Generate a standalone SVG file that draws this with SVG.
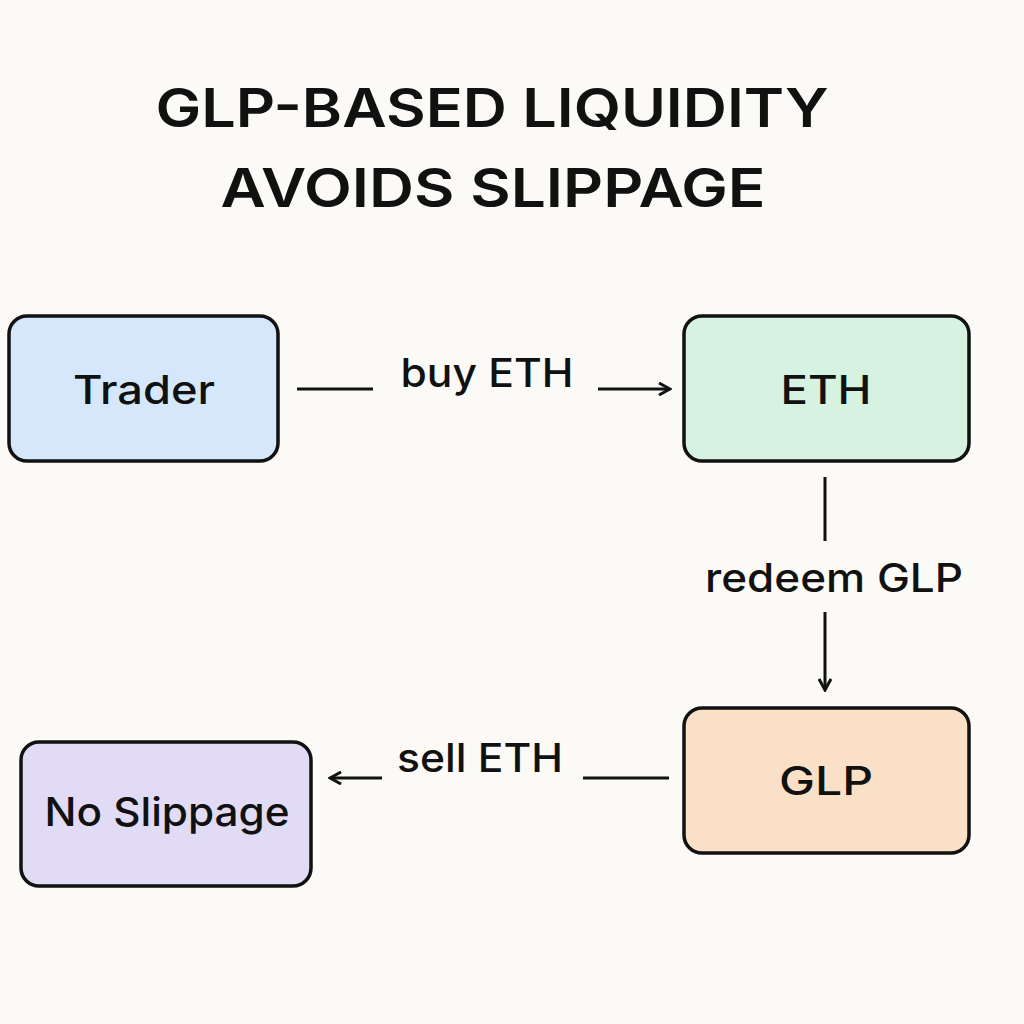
<svg xmlns="http://www.w3.org/2000/svg" width="1024" height="1024" viewBox="0 0 1024 1024">
<style>
.box{stroke:#111;stroke-width:3.5}
.t{font-family:Inter,"Liberation Sans",Arial,sans-serif;fill:#111;text-anchor:middle}
.title{font-size:54px;font-weight:600}
.lbl{font-size:40px;font-weight:500}
.edge{stroke:#111;stroke-width:3;fill:none}
</style>
<defs>
<marker id="ah" markerWidth="14" markerHeight="14" refX="12" refY="7" orient="auto" markerUnits="userSpaceOnUse">
<path d="M1,1 L12,7 L1,13" fill="none" stroke="#111" stroke-width="3"/>
</marker>
</defs>
<rect width="1024" height="1024" fill="#fbfaf6"/>
<g id="title">
<text class="t title" x="492" y="127" textLength="673" lengthAdjust="spacingAndGlyphs">GLP-BASED LIQUIDITY</text>
<text class="t title" x="493" y="207" textLength="545" lengthAdjust="spacingAndGlyphs">AVOIDS SLIPPAGE</text>
</g>
<g id="trader"><rect class="box" x="9" y="316" width="269" height="145" rx="18" fill="#d5e8fb"/><text class="t lbl" x="144" y="404" textLength="142" lengthAdjust="spacingAndGlyphs">Trader</text></g>
<g id="eth"><rect class="box" x="684" y="316" width="285" height="145" rx="18" fill="#d6f2e0"/><text class="t lbl" x="826" y="404" textLength="91" lengthAdjust="spacingAndGlyphs">ETH</text></g>
<g id="glp"><rect class="box" x="684" y="708" width="285" height="145" rx="18" fill="#fbe0c8"/><text class="t lbl" x="826" y="795" textLength="94" lengthAdjust="spacingAndGlyphs">GLP</text></g>
<g id="noslip"><rect class="box" x="21" y="742" width="290" height="144" rx="18" fill="#e1dbf5"/><text class="t lbl" x="167" y="826" textLength="245" lengthAdjust="spacingAndGlyphs">No Slippage</text></g>
<g id="connectors">
<line class="edge" x1="297" y1="389" x2="373" y2="389"/>
<text class="t lbl" x="487" y="387" textLength="173" lengthAdjust="spacingAndGlyphs">buy ETH</text>
<line class="edge" x1="598" y1="389" x2="670" y2="389" marker-end="url(#ah)"/>
<line class="edge" x1="825" y1="477" x2="825" y2="541"/>
<text class="t lbl" x="834" y="592" textLength="258" lengthAdjust="spacingAndGlyphs">redeem GLP</text>
<line class="edge" x1="825" y1="612" x2="825" y2="690" marker-end="url(#ah)"/>
<line class="edge" x1="583" y1="778" x2="669" y2="778"/>
<text class="t lbl" x="480" y="772" textLength="166" lengthAdjust="spacingAndGlyphs">sell ETH</text>
<line class="edge" x1="382" y1="778" x2="330" y2="778" marker-end="url(#ah)"/>
</g>
</svg>
